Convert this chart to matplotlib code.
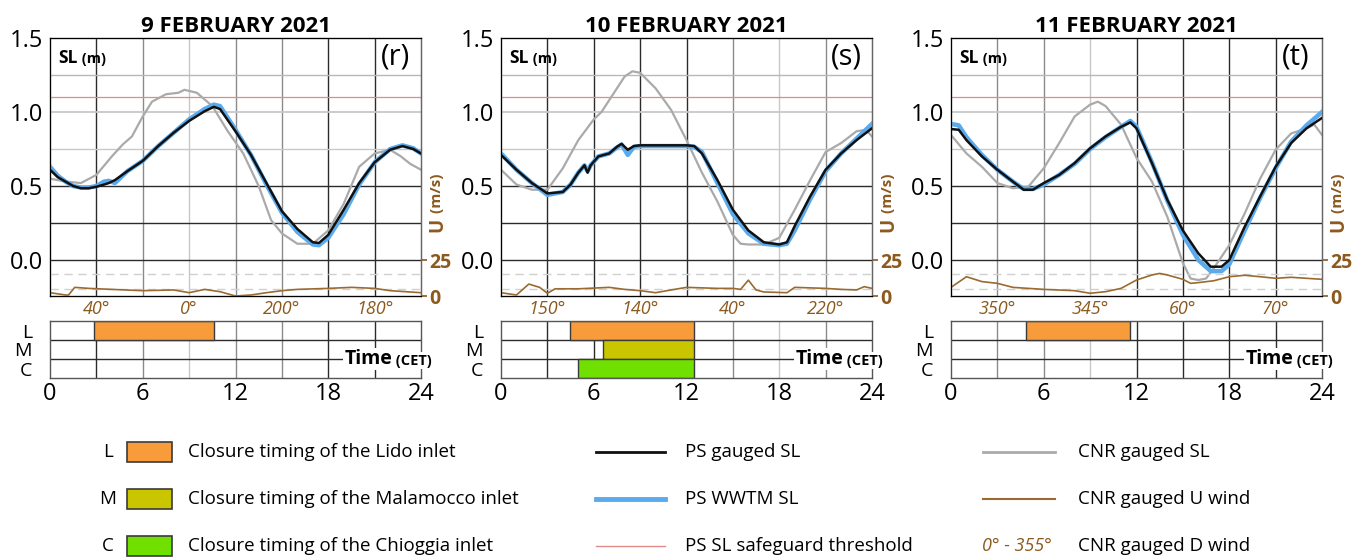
import matplotlib.pyplot as plt
from matplotlib.patches import Rectangle
from matplotlib.lines import Line2D
import matplotlib.transforms as mtransforms

plt.rcParams['font.family'] = ['Open Sans', 'DejaVu Sans']

# ---- data -------------------------------------------------------------
days = ['9 FEBRUARY 2021', '10 FEBRUARY 2021', '11 FEBRUARY 2021']
tags = ['(r)', '(s)', '(t)']

# 9 February
ps_t_9 = [0, 0.5, 1, 1.5, 2, 2.5, 3, 3.5, 3.8, 4.2, 5, 6, 7, 8, 9, 10, 10.6, 11, 12,
          13, 14, 15, 16, 17, 17.4, 18, 19, 20, 21, 22, 22.8, 23.5, 24]
ps_sl_9 = [0.61, 0.56, 0.53, 0.50, 0.485, 0.485, 0.495, 0.51, 0.52, 0.54, 0.60, 0.67,
           0.77, 0.86, 0.94, 1.005, 1.035, 1.02, 0.87, 0.71, 0.52, 0.33, 0.21, 0.12,
           0.115, 0.17, 0.34, 0.52, 0.66, 0.745, 0.77, 0.75, 0.72]
wwtm_sl_9 = [0.63, 0.57, 0.53, 0.50, 0.49, 0.49, 0.50, 0.53, 0.535, 0.52, 0.60, 0.67,
             0.77, 0.86, 0.95, 1.02, 1.05, 1.04, 0.88, 0.71, 0.51, 0.32, 0.19, 0.105,
             0.10, 0.15, 0.31, 0.51, 0.66, 0.75, 0.775, 0.755, 0.72]
cnr_t_9 = [0, 1, 2, 3, 4, 4.7, 5.3, 6, 6.6, 7.5, 8.3, 8.7, 9.5, 10.5, 11.5, 12.5, 13.5,
           14.3, 15, 16, 17, 18, 19, 20, 21, 22, 22.7, 23.3, 24]
cnr_sl_9 = [0.55, 0.53, 0.52, 0.575, 0.70, 0.78, 0.835, 0.97, 1.07, 1.12, 1.13, 1.15,
            1.13, 1.04, 0.87, 0.72, 0.50, 0.27, 0.18, 0.11, 0.11, 0.20, 0.38, 0.63,
            0.72, 0.745, 0.70, 0.65, 0.61]
wind_t_9 = [0, 1, 1.2, 1.6, 2.5, 4, 6, 8, 9, 10, 11, 12, 13, 14, 15, 16, 18, 19.5, 21,
            22, 23, 24]
wind_u_9 = [2.3, 0.7, 0.7, 6.0, 5.3, 4.6, 3.7, 4.2, 2.3, 4.6, 3.0, 0.0, 0.7, 2.3, 3.7,
            4.6, 5.3, 6.0, 5.3, 3.7, 3.0, 2.3]
wind_dir_9 = ['40°', '0°', '200°', '180°']
closures_9 = {'L': (2.85, 10.6)}

# 10 February
ps_t_10 = [0, 1, 2, 3, 4, 4.5, 5, 5.4, 5.6, 5.8, 6.3, 7, 7.5, 7.8, 8.2, 8.6, 9, 10, 11,
           12, 12.5, 13, 14, 15, 16, 17, 18, 18.5, 19, 20, 21, 22, 23, 24]
ps_sl_10 = [0.71, 0.61, 0.52, 0.45, 0.46, 0.51, 0.59, 0.64, 0.59, 0.64, 0.70, 0.72,
            0.765, 0.785, 0.745, 0.77, 0.775, 0.775, 0.775, 0.775, 0.77, 0.72, 0.54,
            0.34, 0.20, 0.12, 0.105, 0.12, 0.23, 0.43, 0.61, 0.72, 0.81, 0.89]
wwtm_sl_10 = [0.72, 0.61, 0.52, 0.44, 0.46, 0.51, 0.59, 0.64, 0.60, 0.64, 0.70, 0.72,
              0.76, 0.78, 0.71, 0.765, 0.77, 0.77, 0.77, 0.77, 0.765, 0.73, 0.52,
              0.31, 0.18, 0.11, 0.10, 0.11, 0.20, 0.41, 0.60, 0.72, 0.82, 0.92]
cnr_t_10 = [0, 1, 2, 3, 4, 5, 6, 6.5, 7, 8, 8.5, 9, 10, 11, 12, 13, 14, 15, 15.5, 16,
            17, 18, 19, 20, 21, 22, 23, 23.6, 24]
cnr_sl_10 = [0.61, 0.51, 0.475, 0.475, 0.62, 0.81, 0.95, 1.0, 1.08, 1.24, 1.275,
             1.265, 1.16, 1.015, 0.81, 0.59, 0.395, 0.17, 0.11, 0.105, 0.105, 0.15,
             0.34, 0.54, 0.73, 0.79, 0.87, 0.88, 0.835]
wind_t_10 = [0, 1, 1.8, 2.5, 3, 3.5, 5, 7, 8, 9, 10, 11, 12, 14, 15, 15.5, 16, 16.5,
             17, 18.5, 19, 21, 22, 23, 23.5, 24]
wind_u_10 = [2.3, 0.7, 8.3, 6.0, 1.9, 5.0, 5.0, 6.0, 4.6, 3.7, 2.3, 4.2, 6.0, 5.3,
             5.3, 4.6, 11.0, 4.2, 2.8, 2.3, 6.0, 5.3, 4.6, 4.2, 6.5, 5.3]
wind_dir_10 = ['150°', '140°', '40°', '220°']
closures_10 = {'L': (4.45, 12.5), 'M': (6.58, 12.5), 'C': (4.95, 12.5)}

# 11 February
ps_t_11 = [0, 0.5, 1, 2, 3, 4, 4.7, 5.3, 6, 7, 8, 9, 10, 11, 11.6, 12, 13, 14, 15, 16,
           16.8, 17.5, 18, 19, 20, 21, 22, 23, 24]
ps_sl_11 = [0.885, 0.88, 0.81, 0.70, 0.61, 0.53, 0.475, 0.475, 0.52, 0.575, 0.655,
            0.755, 0.835, 0.90, 0.93, 0.89, 0.655, 0.405, 0.20, 0.045, -0.045, -0.045,
            0.0, 0.225, 0.43, 0.63, 0.79, 0.89, 0.96]
wwtm_sl_11 = [0.92, 0.91, 0.83, 0.71, 0.61, 0.53, 0.48, 0.48, 0.51, 0.575, 0.65,
              0.75, 0.83, 0.90, 0.94, 0.90, 0.66, 0.40, 0.17, 0.0, -0.075, -0.075,
              -0.03, 0.20, 0.42, 0.62, 0.80, 0.91, 1.0]
cnr_t_11 = [0, 1, 2, 3, 4, 5, 6, 7, 8, 9, 9.5, 10, 11, 12, 13, 14, 15, 15.5, 16, 16.5,
            17, 18, 19, 20, 21, 22, 23, 23.5, 24]
cnr_sl_11 = [0.845, 0.72, 0.63, 0.52, 0.485, 0.495, 0.62, 0.79, 0.97, 1.05, 1.07,
             1.04, 0.915, 0.69, 0.53, 0.29, -0.02, -0.125, -0.135, -0.125, -0.055,
             0.10, 0.315, 0.55, 0.745, 0.855, 0.89, 0.915, 0.845]
wind_t_11 = [0, 1, 2, 3, 4, 5, 6, 8, 9, 10, 11, 12, 13, 13.5, 14, 15, 15.5, 16, 17, 18,
             19, 20, 21, 22, 23, 24]
wind_u_11 = [6.0, 13.4, 10.0, 8.8, 6.0, 5.3, 4.6, 3.7, 1.9, 3.0, 5.3, 11.1, 14.6, 15.7,
             14.6, 11.6, 8.8, 9.3, 10.6, 13.4, 14.4, 13.4, 12.3, 13.0, 12.3, 11.6]
wind_dir_11 = ['350°', '345°', '60°', '70°']
closures_11 = {'L': (4.85, 11.6)}

threshold = 1.1
u_dashed = [5, 15]

# ---- style ------------------------------------------------------------
BROWN = '#8c5a1e'
UWIND = '#9a6a30'
BLACK = '#111111'
BLUE = '#5aaaee'
GREY = '#aaaaaa'
RED = '#e08a8a'
DARK, MID, LIGHT = '#2b2b2b', '#8a8a8a', '#c8c8c8'
inlet_colors = {'L': '#f89b3a', 'M': '#c9c600', 'C': '#6fe000'}
inlet_rows = {'L': 2, 'M': 1, 'C': 0}

vgrid = [[DARK, MID, LIGHT, MID, MID, DARK, DARK],
         [DARK, DARK, DARK, DARK, MID, LIGHT, MID],
         [MID, MID, LIGHT, DARK, DARK, DARK, DARK]]
hgrid = [(0.25, DARK), (0.5, DARK), (0.75, LIGHT), (1.0, LIGHT), (1.25, '#b8b8b8')]

panels = [
    (ps_t_9, ps_sl_9, wwtm_sl_9, cnr_t_9, cnr_sl_9, wind_t_9, wind_u_9, wind_dir_9, closures_9),
    (ps_t_10, ps_sl_10, wwtm_sl_10, cnr_t_10, cnr_sl_10, wind_t_10, wind_u_10, wind_dir_10, closures_10),
    (ps_t_11, ps_sl_11, wwtm_sl_11, cnr_t_11, cnr_sl_11, wind_t_11, wind_u_11, wind_dir_11, closures_11),
]

W, H = 1366, 560
fig = plt.figure(figsize=(W / 100, H / 100), dpi=100)

sl_bottom = -0.243
u_top = 25 * (1.5 - sl_bottom) / (0 - sl_bottom)

for i, (pt, ps, ww, ct, cs, wt, wu, wdir, clos) in enumerate(panels):
    left = [50, 501, 951][i]
    ax = fig.add_axes([left / W, 1 - 296 / H, 371 / W, 258 / H])
    ax.set_xlim(0, 24)
    ax.set_ylim(sl_bottom, 1.5)
    ax.set_xticks([])
    ax.set_yticks([0, 0.5, 1.0, 1.5], ['0.0', '0.5', '1.0', '1.5'])
    ax.tick_params(axis='y', length=0, labelsize=17, pad=5)
    for s in ax.spines.values():
        s.set_color('#666666')
        s.set_linewidth(1)

    for k, c in enumerate(vgrid[i]):
        ax.axvline(3 * (k + 1), color=c, lw=1, zorder=0)
    ax.axhline(0, color=DARK, lw=1, zorder=0)
    for y, c in hgrid:
        ax.axhline(y, color=c, lw=1.3 if y == 1.0 else 1, zorder=0)
    ax.axhline(threshold, color=RED, lw=0.9, zorder=1)

    ax.plot(ct, cs, color=GREY, lw=1.6, zorder=2)
    ax.plot(pt, ww, color=BLUE, lw=3.2, zorder=3)
    ax.plot(pt, ps, color=BLACK, lw=1.8, zorder=4)

    ax.set_title(days[i], fontsize=16, fontweight='bold', pad=4)
    sl = ax.text(0.022, 0.922, 'SL', transform=ax.transAxes, fontsize=12.5,
                 fontweight='bold', va='center', ha='left')
    ax.annotate(' (m)', xy=(1, 0.45), xycoords=sl, fontsize=10.5, fontweight='bold',
                va='center', ha='left')
    ax.text(0.93, 0.925, tags[i], transform=ax.transAxes, fontsize=21,
            va='center', ha='center')

    # wind speed on a secondary scale
    uax = ax.twinx()
    uax.set_ylim(0, u_top)
    uax.set_yticks([0, 25], ['0', '25'])
    uax.tick_params(axis='y', colors=BROWN, length=4, width=1.2, labelsize=14, pad=2)
    for lbl in uax.get_yticklabels():
        lbl.set_fontweight('bold')
    uax.spines['right'].set_color('#666666')
    for y in u_dashed:
        uax.axhline(y, color='#d0d0d0', lw=1, ls=(0, (6, 4)), zorder=0)
    uax.plot(wt, wu, color=UWIND, lw=1.2, zorder=2)
    u = uax.text(1.043, 0.25, 'U', transform=ax.transAxes, rotation=90, fontsize=13.5,
                 fontweight='bold', color=BROWN, va='bottom', ha='center')
    uax.annotate(' (m/s)', xy=(0.5, 1), xycoords=u, rotation=90, fontsize=11,
                 fontweight='bold', color=BROWN, va='bottom', ha='center')

    trans = mtransforms.blended_transform_factory(ax.transData, ax.transAxes)
    for k, d in enumerate(wdir):
        ax.text(3 + 6 * k, -0.052, d, transform=trans, ha='center', va='center',
                style='italic', color=BROWN, fontsize=13)

    # closure timeline
    bax = fig.add_axes([left / W, 1 - 378 / H, 371 / W, 57 / H])
    bax.set_xlim(0, 24)
    bax.set_ylim(0, 3)
    bax.set_xticks([0, 6, 12, 18, 24])
    bax.set_yticks([2.5, 1.5, 0.5], ['L', 'M', 'C'])
    bax.tick_params(axis='x', length=0, labelsize=17, pad=3)
    bax.tick_params(axis='y', length=0, labelsize=14, pad=13)
    for s in bax.spines.values():
        s.set_color('#555555')
        s.set_linewidth(1)
    for k, c in enumerate(vgrid[i]):
        bax.axvline(3 * (k + 1), color=c, lw=1, zorder=0)
    bax.axhline(2, color=DARK, lw=1, zorder=1)
    bax.plot([0, 19], [1, 1], color=DARK, lw=1, zorder=1)
    for name, (t0, t1) in clos.items():
        bax.barh(inlet_rows[name] + 0.5, t1 - t0, left=t0, height=1,
                 color=inlet_colors[name], edgecolor='#3a3a3a', lw=1, zorder=2)
    tt = bax.text(19.05, 1, 'Time', fontsize=14, fontweight='bold', va='center',
                  ha='left', zorder=5, clip_on=False,
                  bbox=dict(fc='white', ec='none', pad=1))
    bax.annotate(' (CET)', xy=(1, 0.42), xycoords=tt, fontsize=10.5,
                 fontweight='bold', va='center', ha='left', zorder=5,
                 bbox=dict(fc='white', ec='none', pad=1))

# ---- legend -----------------------------------------------------------
def fx(px):
    return px / W


def fy(py):
    return 1 - py / H


LEG_FS = 13.5
rows_y = [452, 499, 546]
closure_labels = ['Closure timing of the Lido inlet',
                  'Closure timing of the Malamocco inlet',
                  'Closure timing of the Chioggia inlet']
for name, ry, lbl in zip(['L', 'M', 'C'], rows_y, closure_labels):
    fig.text(fx(108), fy(ry), name, fontsize=LEG_FS, ha='center', va='center')
    fig.add_artist(Rectangle((fx(127), fy(ry + 10)), fx(172) - fx(127), 20 / H,
                             transform=fig.transFigure, fc=inlet_colors[name],
                             ec='#3a3a3a', lw=1.2))
    fig.text(fx(188), fy(ry), lbl, fontsize=LEG_FS, va='center')

line_items = [(BLACK, 2.0, 'PS gauged SL'), (BLUE, 3.5, 'PS WWTM SL'),
              (RED, 1.0, 'PS SL safeguard threshold')]
for (c, lw, lbl), ry in zip(line_items, rows_y):
    fig.add_artist(Line2D([fx(596), fx(665)], [fy(ry), fy(ry)],
                          transform=fig.transFigure, color=c, lw=lw))
    fig.text(fx(685), fy(ry), lbl, fontsize=LEG_FS, va='center')

for (c, lw, lbl), ry in zip([(GREY, 2.0, 'CNR gauged SL'),
                             (UWIND, 1.5, 'CNR gauged U wind')], rows_y[:2]):
    fig.add_artist(Line2D([fx(983), fx(1055)], [fy(ry), fy(ry)],
                          transform=fig.transFigure, color=c, lw=lw))
    fig.text(fx(1078), fy(ry), lbl, fontsize=LEG_FS, va='center')
fig.text(fx(1017), fy(rows_y[2]), '0° - 355°', fontsize=LEG_FS - 0.5, style='italic',
         color=BROWN, ha='center', va='center')
fig.text(fx(1078), fy(rows_y[2]), 'CNR gauged D wind', fontsize=LEG_FS, va='center')

fig.savefig('out.png', dpi=100)
